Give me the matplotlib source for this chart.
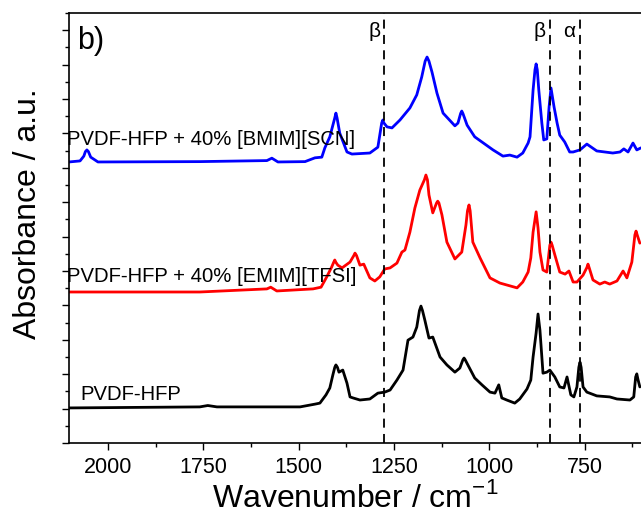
import matplotlib
matplotlib.use("Agg")
import matplotlib.pyplot as plt
from matplotlib.ticker import MultipleLocator, NullFormatter

plt.rcParams['font.family'] = ['Liberation Sans', 'DejaVu Sans']

# spectra: wavenumber (cm-1) and offset absorbance (a.u.)
blue_wn = [2102, 2073, 2063, 2059, 2055, 2051, 2045, 2026, 1759, 1583, 1570, 1554, 1483,
           1457, 1439, 1431, 1418, 1405, 1402, 1399, 1392, 1373, 1360, 1313, 1292, 1282,
           1279, 1276, 1268, 1255, 1234, 1208, 1190, 1177, 1168, 1163, 1158, 1150, 1137,
           1121, 1090, 1082, 1075, 1072, 1069, 1058, 1038, 990, 964, 946, 927, 912, 898,
           893, 885, 880, 877, 874, 870, 862, 857, 849, 843, 838, 830, 822, 815, 802, 789,
           780, 762, 744, 718, 676, 657, 647, 636, 623, 613, 602]
blue_abs = [8.17, 8.20, 8.34, 8.47, 8.52, 8.47, 8.31, 8.17, 8.18, 8.21, 8.28, 8.17, 8.18,
            8.29, 8.31, 8.58, 8.90, 9.45, 9.59, 9.45, 9.01, 8.46, 8.40, 8.43, 8.60, 9.30,
            9.39, 9.30, 9.19, 9.16, 9.39, 9.74, 10.12, 10.64, 11.10, 11.22, 11.10, 10.78, 10.17,
            9.59, 9.22, 9.30, 9.58, 9.65, 9.58, 9.24, 8.90, 8.52, 8.34, 8.37, 8.31, 8.43, 8.72,
            8.90, 10.26, 10.85, 11.02, 10.85, 10.26, 9.30, 8.81, 8.84, 9.77, 10.32, 9.77, 9.30, 8.95, 8.75, 8.46,
            8.46, 8.52, 8.69, 8.49, 8.43, 8.46, 8.55, 8.46, 8.72, 8.52, 8.58]

red_wn = [2102, 1759, 1583, 1573, 1557, 1462, 1441, 1426, 1413, 1408, 1405, 1402, 1397,
          1386, 1365, 1355, 1352, 1348, 1339, 1329, 1313, 1300, 1287, 1274, 1260, 1242,
          1229, 1221, 1208, 1195, 1182, 1170, 1166, 1162, 1158, 1148, 1138, 1135, 1132,
          1124, 1111, 1090, 1072, 1061, 1057, 1053, 1050, 1043, 1024, 998, 972, 927, 912,
          898, 891, 885, 877, 872, 867, 859, 849, 841, 838, 835, 828, 815, 801, 791,
          780, 770, 754, 744, 741, 738, 728, 710, 697, 684, 665, 649, 639, 626, 618, 615,
          612, 605]
red_abs = [4.39, 4.39, 4.48, 4.53, 4.42, 4.48, 4.53, 4.83, 5.12, 5.25, 5.32, 5.25, 5.17,
           5.09, 5.26, 5.45, 5.52, 5.45, 5.17, 5.20, 4.80, 4.71, 4.83, 5.06, 5.09, 5.23,
           5.55, 5.61, 6.13, 6.83, 7.35, 7.65, 7.79, 7.65, 7.21, 6.69, 6.98, 7.03, 6.98,
           6.63, 5.84, 5.35, 5.55, 6.34, 6.75, 6.92, 6.75, 5.84, 5.38, 4.80, 4.65, 4.51, 4.68,
           4.97, 5.38, 6.13, 6.72, 6.25, 5.55, 5.03, 4.97, 5.75, 5.84, 5.75, 5.47, 4.97, 4.91, 5.00,
           4.68, 4.68, 4.88, 5.10, 5.20, 5.10, 4.74, 4.62, 4.68, 4.62, 4.71, 5.00, 4.80, 5.26, 6.05, 6.16,
           6.05, 5.81]

black_wn = [2102, 1759, 1738, 1714, 1496, 1457, 1444, 1428, 1418, 1410, 1405, 1402, 1398,
            1394, 1384, 1373, 1365, 1357, 1339, 1313, 1292, 1274, 1260, 1242, 1226, 1213,
            1200, 1190, 1183, 1179, 1175, 1169, 1158, 1148, 1129, 1111, 1090, 1077, 1069,
            1066, 1063, 1056, 1038, 1019, 998, 985, 975, 967, 954, 933, 920, 901, 891, 885,
            877, 872, 867, 862, 859, 849, 841, 828, 815, 804, 796, 786, 778, 770, 765, 762,
            759, 754, 744, 718, 684, 665, 631, 621, 616, 613, 610, 605]
black_abs = [1.02, 1.05, 1.09, 1.05, 1.05, 1.13, 1.16, 1.40, 1.60, 1.98, 2.20, 2.27, 2.20,
             2.06, 2.12, 1.74, 1.34, 1.31, 1.25, 1.28, 1.45, 1.48, 1.54, 1.83, 2.12, 2.99,
             3.08, 3.37, 3.85, 3.98, 3.85, 3.58, 3.05, 3.08, 2.50, 2.27, 2.06, 2.18, 2.42,
             2.47, 2.42, 2.27, 1.89, 1.69, 1.48, 1.45, 1.69, 1.31, 1.25, 1.16, 1.28, 1.57, 1.83, 2.50,
             3.20, 3.75, 3.28, 2.50, 2.03, 2.06, 2.12, 1.92, 1.63, 1.60, 1.92, 1.40, 1.34, 1.63, 2.20, 2.35,
             2.20, 1.63, 1.48, 1.37, 1.34, 1.28, 1.25, 1.34, 1.92, 2.01, 1.85, 1.63]

phase_wn = [1276, 840, 763]
phase_labels = ["β", "β", "α"]
phase_label_wn = [1300, 867, 791]

fig = plt.figure(figsize=(6.41, 5.14), dpi=100)
ax = fig.add_axes([0.1076, 0.1381, 0.8924, 0.8366])

for wn, ab, col in [(black_wn, black_abs, "black"), (red_wn, red_abs, "red"), (blue_wn, blue_abs, "blue")]:
    ax.plot(wn, ab, color=col, lw=2.0, solid_joinstyle="round", solid_capstyle="round")

for wn in phase_wn:
    ax.axvline(wn, color="black", ls=(0, (5, 3.5)), lw=1.3)
for wn, lab in zip(phase_label_wn, phase_labels):
    ax.text(wn, 11.95, lab, fontsize=15, ha="center", va="center")

ax.text(2107, 8.81, "PVDF-HFP + 40% [BMIM][SCN]", fontsize=14.6, va="center", ha="left")
ax.text(2107, 4.83, "PVDF-HFP + 40% [EMIM][TFSI]", fontsize=14.6, va="center", ha="left")
ax.text(2071, 1.40, "PVDF-HFP", fontsize=14.6, va="center", ha="left")
ax.text(2082, 11.7, "b)", fontsize=22, va="center", ha="left")

ax.set_xlim(2102, 602)
ax.set_ylim(0, 12.5)
ax.xaxis.set_major_locator(MultipleLocator(250))
ax.xaxis.set_minor_locator(MultipleLocator(125))
ax.yaxis.set_major_locator(MultipleLocator(1))
ax.yaxis.set_minor_locator(MultipleLocator(0.5))
ax.yaxis.set_major_formatter(NullFormatter())
ax.tick_params(which="major", direction="out", length=5, width=1, labelsize=15.5, pad=5)
ax.tick_params(which="minor", direction="out", length=3, width=1)
ax.spines["right"].set_visible(False)
for s in ["left", "bottom", "top"]:
    ax.spines[s].set_linewidth(1.2)

ax.set_xlabel("Wavenumber / cm$^{\\mathregular{-1}}$", fontsize=23, labelpad=3)
ax.set_ylabel("Absorbance / a.u.", fontsize=23)
ax.yaxis.set_label_coords(-0.045, 0.533)

fig.savefig("out.png", dpi=100)
